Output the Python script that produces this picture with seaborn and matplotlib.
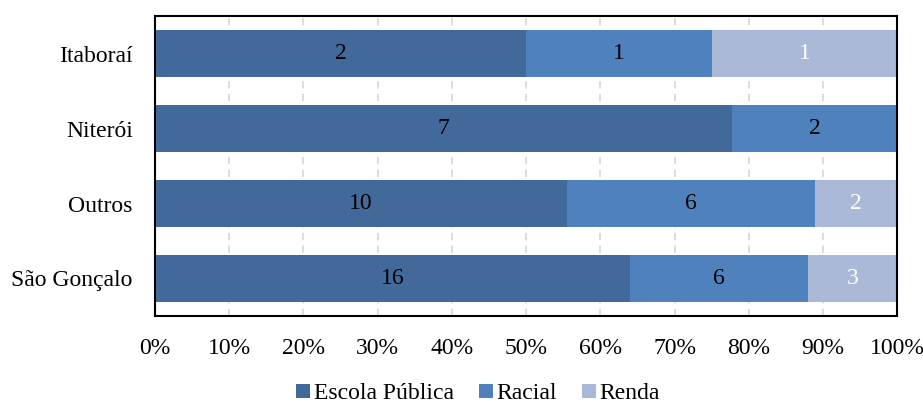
import pandas as pd
import seaborn as sns
import matplotlib.pyplot as plt
from matplotlib.patches import Patch

# Data (counts per city)
cidades = ['Itaboraí', 'Niterói', 'Outros', 'São Gonçalo']
escola_publica = [2, 7, 10, 16]
racial = [1, 2, 6, 6]
renda = [1, 0, 2, 3]

series = ['Escola Pública', 'Racial', 'Renda']
cores = ['#416a9b', '#4f81bd', '#aab9d7']
cor_texto = ['black', 'black', 'white']

sns.set_style('white')
plt.rcParams['font.family'] = ['Liberation Serif', 'DejaVu Serif']
plt.rcParams['text.color'] = 'black'
plt.rcParams['xtick.color'] = 'black'
plt.rcParams['ytick.color'] = 'black'

df = pd.DataFrame({'cidade': cidades, 'Escola Pública': escola_publica,
                   'Racial': racial, 'Renda': renda})
total = df[series].sum(axis=1)
pct = df[series].div(total, axis=0)
cum = pct.cumsum(axis=1)

fig = plt.figure(figsize=(9.23, 4.05), dpi=100)
ax = fig.add_axes([0.168, 0.22, 0.804, 0.74])

# draw cumulative bars from the back (100%) to the front
for s, c in reversed(list(zip(series, cores))):
    sns.barplot(x=cum[s], y=df['cidade'], orient='h', color=c,
                width=0.62, ax=ax, saturation=1, linewidth=0, zorder=2)

# value labels centered in each segment
for i in range(len(df)):
    for j, s in enumerate(series):
        v = df.loc[i, s]
        if v == 0:
            continue
        mid = cum.loc[i, s] - pct.loc[i, s] / 2
        ax.text(mid, i, str(v), ha='center', va='center',
                fontsize=17, color=cor_texto[j], zorder=3)

ax.set_xlim(0, 1)
ax.set_ylim(3.5, -0.5)
ax.set_xticks([k / 10 for k in range(11)])
ax.set_xticklabels([f'{k * 10}%' for k in range(11)], fontsize=17)
ax.tick_params(axis='y', labelsize=17, length=0, pad=16)
ax.tick_params(axis='x', length=0, pad=16)
ax.set_xlabel('')
ax.set_ylabel('')
ax.xaxis.grid(True, color='#d9d9d9', linestyle=(0, (4, 3)), linewidth=1.3, zorder=0)
ax.set_axisbelow(True)
for sp in ax.spines.values():
    sp.set_visible(True)
    sp.set_color('black')
    sp.set_linewidth(1.5)

handles = [Patch(facecolor=c, edgecolor='none', label=s) for s, c in zip(series, cores)]
fig.legend(handles=handles, loc='lower center', ncol=3, frameon=False,
           fontsize=17, handlelength=0.6, handleheight=0.55, handletextpad=0.15,
           columnspacing=1.05, bbox_to_anchor=(0.518, -0.05))

fig.savefig('out.png', dpi=100)
